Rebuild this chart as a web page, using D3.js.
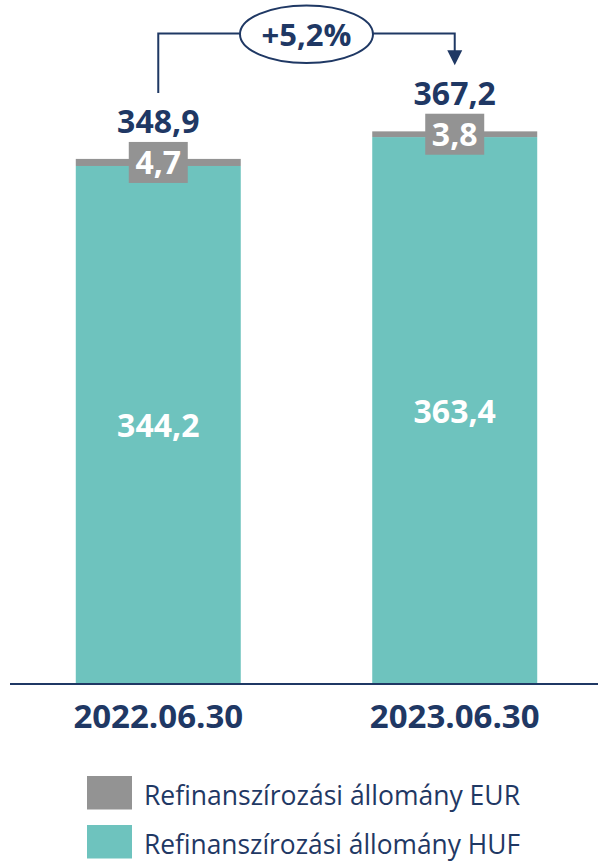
<!DOCTYPE html>
<html>
<head>
<meta charset="utf-8">
<script src="https://cdn.jsdelivr.net/npm/d3@7"></script>
<style>
  html, body { margin: 0; padding: 0; background: #fff; }
  svg { display: block; }
  text { font-family: "Open Sans", "Noto Sans", sans-serif; }
</style>
</head>
<body>
<svg id="chart" width="598" height="861"></svg>
<script>
// ---- data ----
const categories = ["2022.06.30", "2023.06.30"];
const hufValues = [344.2, 363.4];
const eurValues = [4.7, 3.8];
const totals = [348.9, 367.2];
const changeLabel = "+5,2%";
const seriesNames = ["Refinanszírozási állomány EUR", "Refinanszírozási állomány HUF"];

const fmt = v => d3.format(".1f")(v).replace(".", ",");

const NAVY = "#1F3864", TEAL = "#6EC3BE", GRAY = "#939393";

const svg = d3.select("#chart");

const x = d3.scaleBand().domain(categories).range([15, 598]).paddingInner(0.4435).paddingOuter(0.205);
const y = d3.scaleLinear().domain([0, 400]).range([684, 82]);

const rows = categories.map((c, i) => ({ cat: c, huf: hufValues[i], eur: eurValues[i], total: totals[i] }));
const stack = d3.stack().keys(["huf", "eur"])(rows);
const colors = { huf: TEAL, eur: GRAY };

// bars
svg.append("g").selectAll("g").data(stack).join("g")
  .attr("fill", d => colors[d.key])
  .selectAll("rect").data(d => d).join("rect")
  .attr("x", d => x(d.data.cat))
  .attr("width", x.bandwidth())
  .attr("y", d => y(d[1]))
  .attr("height", d => y(d[0]) - y(d[1]));

// axis line
svg.append("line").attr("x1", 10).attr("x2", 598).attr("y1", y(0)).attr("y2", y(0))
  .attr("stroke", NAVY).attr("stroke-width", 2);

// x labels
const xAxis = d3.axisBottom(x).tickSize(0).tickPadding(0);
const gx = svg.append("g").attr("transform", `translate(0,${y(0)})`).call(xAxis);
gx.select(".domain").remove();
gx.selectAll("text")
  .attr("dy", null).attr("y", 44)
  .attr("fill", NAVY)
  .style("font-family", '"Open Sans", sans-serif')
  .style("font-weight", 700).style("font-size", "33px");

// HUF labels
svg.append("g").selectAll("text").data(rows).join("text")
  .attr("x", d => x(d.cat) + x.bandwidth() / 2)
  .attr("y", d => (y(0) + y(d.huf)) / 2 + 12)
  .attr("text-anchor", "middle")
  .attr("fill", "#fff").style("font-weight", 700).style("font-size", "32px")
  .text(d => fmt(d.huf));

// EUR labels with gray box
const eurG = svg.append("g").selectAll("g").data(rows).join("g")
  .attr("transform", d => `translate(${x(d.cat) + x.bandwidth() / 2},${(y(d.huf) + y(d.total)) / 2})`);
eurG.append("rect").attr("x", -29.5).attr("y", -20.5).attr("width", 59).attr("height", 41).attr("fill", GRAY);
eurG.append("text").attr("text-anchor", "middle").attr("y", 11.5)
  .attr("fill", "#fff").style("font-weight", 700).style("font-size", "32px")
  .text(d => fmt(d.eur));

// total labels
svg.append("g").selectAll("text").data(rows).join("text")
  .attr("x", d => x(d.cat) + x.bandwidth() / 2)
  .attr("y", d => y(d.total) - 26)
  .attr("text-anchor", "middle")
  .attr("fill", NAVY).style("font-weight", 700).style("font-size", "32px")
  .text(d => fmt(d.total));

// change annotation
const cx0 = x(categories[0]) + x.bandwidth() / 2;
const cx1 = x(categories[1]) + x.bandwidth() / 2;
const topY = 33.5;
const startY = y(totals[0]) - 66;
const tipY = y(totals[1]) - 66;
const mid = (cx0 + cx1) / 2;
svg.append("path")
  .attr("d", `M${cx0},${startY}V${topY}H${cx1}V${tipY - 14}`)
  .attr("fill", "none").attr("stroke", NAVY).attr("stroke-width", 2);
svg.append("path")
  .attr("d", `M${cx1 - 7.5},${tipY - 15}L${cx1 + 7.5},${tipY - 15}L${cx1},${tipY}Z`)
  .attr("fill", NAVY);
svg.append("ellipse").attr("cx", mid).attr("cy", 34.2).attr("rx", 66.5).attr("ry", 28.8)
  .attr("fill", "#fff").attr("stroke", NAVY).attr("stroke-width", 2);
svg.append("text").attr("x", mid).attr("y", 45.5).attr("text-anchor", "middle")
  .attr("fill", NAVY).style("font-weight", 700).style("font-size", "31px")
  .text(changeLabel);

// legend
const legendColors = [GRAY, TEAL];
const lg = svg.append("g").selectAll("g").data(seriesNames).join("g")
  .attr("transform", (d, i) => `translate(87,${776 + i * 49})`);
lg.append("rect").attr("width", 45).attr("height", 33.5).attr("fill", (d, i) => legendColors[i]);
lg.append("text").attr("x", 57).attr("y", 28.5)
  .attr("fill", NAVY).style("font-size", "27.5px")
  .attr("textLength", 376)
  .attr("lengthAdjust", "spacingAndGlyphs")
  .text(d => d);
</script>
</body>
</html>
